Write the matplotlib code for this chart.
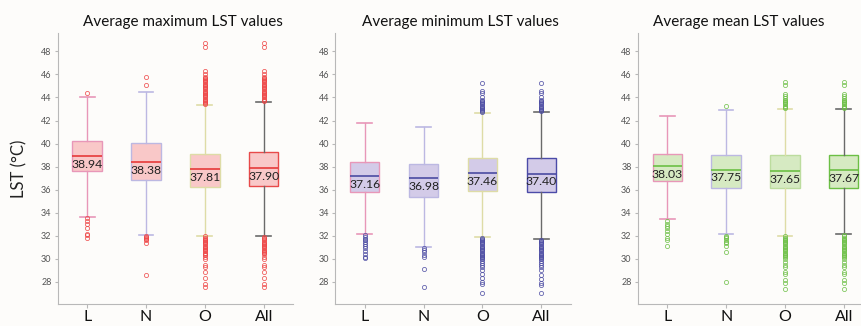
import matplotlib.pyplot as plt

groups = ['L', 'N', 'O', 'All']

# --- average maximum LST: q1, median, q3, whisker ends, outliers ---
max_q1 = [37.61, 36.81, 36.24, 36.32]
max_med = [38.94, 38.38, 37.81, 37.90]
max_q3 = [40.20, 40.02, 39.10, 39.31]
max_lo = [33.65, 32.07, 32.02, 31.96]
max_hi = [44.07, 44.44, 43.32, 43.64]
max_out = [
    [44.38, 33.55, 33.30, 33.00, 32.70, 32.20, 32.05, 31.85],
    [45.82, 45.04, 31.98, 31.90, 31.82, 31.74, 31.66, 31.40, 28.60],
    [48.72, 48.38, 46.34, 46.05, 45.80, 45.70, 45.60, 45.50, 45.40, 45.30,
     45.20, 45.10, 45.00, 44.90, 44.80, 44.70, 44.60, 44.50, 44.40, 44.30,
     44.20, 44.10, 44.00, 43.90, 43.80, 43.70, 43.60, 43.50, 43.40,
     31.95, 31.85, 31.75, 31.65, 31.55, 31.45, 31.35, 31.25, 31.15, 31.05,
     30.95, 30.85, 30.75, 30.65, 30.55, 30.45, 30.35, 30.20, 30.00, 29.50,
     29.30, 28.85, 28.35, 27.85, 27.55],
    [48.72, 48.38, 46.34, 46.05, 45.80, 45.70, 45.60, 45.50, 45.40, 45.30,
     45.20, 45.10, 45.00, 44.90, 44.80, 44.70, 44.60, 44.50, 44.40, 44.30,
     44.20, 44.10, 44.00, 43.90, 43.80, 43.70,
     31.90, 31.80, 31.70, 31.60, 31.50, 31.40, 31.30, 31.20, 31.10, 31.00,
     30.90, 30.80, 30.70, 30.60, 30.50, 30.40, 30.20, 30.00, 29.50, 29.30,
     28.85, 28.35, 27.85, 27.55],
]

# --- average minimum LST ---
min_q1 = [35.79, 35.34, 35.91, 35.79]
min_med = [37.16, 36.98, 37.46, 37.40]
min_q3 = [38.37, 38.20, 38.72, 38.72]
min_lo = [32.13, 31.00, 31.90, 31.70]
min_hi = [41.81, 41.47, 42.64, 42.73]
min_out = [
    [32.05, 31.90, 31.75, 31.60, 31.45, 31.30, 31.10, 30.90, 30.70, 30.45,
     30.20, 30.10],
    [30.92, 30.80, 30.60, 30.30, 30.15, 29.10, 27.55],
    [45.28, 44.55, 44.35, 44.05, 43.80, 43.70, 43.60, 43.50, 43.40, 43.30,
     43.20, 43.10, 43.00, 42.90, 42.80, 42.70,
     31.85, 31.75, 31.65, 31.55, 31.45, 31.35, 31.25, 31.15, 31.05, 30.95,
     30.85, 30.75, 30.65, 30.55, 30.45, 30.35, 30.25, 30.15, 30.05, 29.95,
     29.80, 29.65, 29.50, 29.30, 29.00, 28.65, 28.30, 28.00, 27.85, 27.05],
    [45.28, 44.55, 44.35, 44.00, 43.80, 43.70, 43.60, 43.50, 43.40, 43.30,
     43.20, 43.10, 43.00, 42.90, 42.80,
     31.65, 31.55, 31.45, 31.35, 31.25, 31.15, 31.05, 30.95, 30.85, 30.75,
     30.65, 30.55, 30.45, 30.35, 30.25, 30.15, 30.05, 29.95, 29.80, 29.65,
     29.50, 29.30, 29.00, 28.60, 28.25, 27.95, 27.75, 27.05],
]

# --- average mean LST ---
mean_q1 = [36.78, 36.18, 36.13, 36.13]
mean_med = [38.03, 37.75, 37.65, 37.67]
mean_q3 = [39.10, 39.02, 38.99, 38.99]
mean_lo = [33.44, 32.12, 32.00, 32.12]
mean_hi = [42.39, 42.94, 42.99, 43.02]
mean_out = [
    [33.26, 33.06, 32.86, 32.64, 32.43, 32.20, 31.83, 31.63, 31.15],
    [43.28, 32.00, 31.90, 31.80, 31.65, 31.50, 31.40, 31.15, 30.60, 28.00],
    [45.30, 45.10, 44.30, 44.10, 43.95, 43.80, 43.70, 43.60, 43.50, 43.40,
     43.30, 43.20, 43.10,
     31.95, 31.85, 31.75, 31.65, 31.55, 31.45, 31.35, 31.25, 31.15, 31.05,
     30.95, 30.85, 30.75, 30.65, 30.55, 30.45, 30.35, 30.25, 30.15, 30.00,
     29.70, 29.50, 29.30, 28.90, 28.70, 28.20, 27.95, 27.40],
    [45.30, 45.10, 44.30, 44.10, 43.95, 43.80, 43.70, 43.60, 43.50, 43.40,
     43.30, 43.20, 43.10,
     32.05, 31.95, 31.85, 31.75, 31.65, 31.55, 31.45, 31.35, 31.25, 31.15,
     31.05, 30.95, 30.85, 30.75, 30.65, 30.55, 30.45, 30.35, 30.25, 30.15,
     30.00, 29.70, 29.50, 29.30, 28.90, 28.70, 28.20, 27.95, 27.40],
]

plt.rcParams['font.family'] = ['Lato', 'DejaVu Sans']

PINK = '#e897b8'
LAV = '#bcb8e2'
YEL = '#dedca6'
GREY = '#6a6a6a'


def panel(ax, q1, med, q3, lo, hi, out, fill, medc, edges, flierc, title, tx=0.53):
    stats = []
    for i in range(len(groups)):
        stats.append(dict(q1=q1[i], med=med[i], q3=q3[i], whislo=lo[i],
                          whishi=hi[i], fliers=out[i], label=groups[i]))
    bp = ax.bxp(stats, widths=0.5, patch_artist=True, showfliers=True,
                flierprops=dict(marker='o', markersize=3.0, markerfacecolor='none',
                                markeredgecolor=flierc, markeredgewidth=0.6,
                                alpha=0.85),
                medianprops=dict(color=medc, linewidth=1.2),
                boxprops=dict(facecolor=fill, linewidth=1.0))
    whisk = [PINK, LAV, YEL, GREY]
    for i in range(len(groups)):
        bp['boxes'][i].set_edgecolor(edges[i])
        for j in (2 * i, 2 * i + 1):
            bp['whiskers'][j].set_color(whisk[i])
            bp['caps'][j].set_color(whisk[i])
            bp['whiskers'][j].set_linewidth(1.0)
            bp['caps'][j].set_linewidth(1.2)
        # value label just under the median line
        ax.annotate(f'{med[i]:.2f}', (i + 1, med[i]), xytext=(0, -6),
                    textcoords='offset points', ha='center', va='center',
                    fontsize=8.8, color='#222222')

    ax.set_xlim(0.5, 4.5)
    ax.set_ylim(26.1, 49.6)
    ax.set_yticks(range(28, 49, 2))
    ax.set_facecolor('none')
    for s in ('top', 'right'):
        ax.spines[s].set_visible(False)
    for s in ('left', 'bottom'):
        ax.spines[s].set_color('#b8b8b8')
    ax.tick_params(axis='y', labelsize=6.5, colors='#b8b8b8', labelcolor='#555555',
                   length=2.5, pad=2)
    ax.tick_params(axis='x', labelsize=11.5, colors='#b8b8b8', labelcolor='#111111',
                   length=3, pad=1.5)
    ax.set_title(title, fontsize=11, color='#111111', pad=5, x=tx)


fig = plt.figure(figsize=(8.62, 3.26), dpi=100, facecolor='#fdfcfa')
w = 0.273
ax1 = fig.add_axes([0.067, 0.068, w, 0.831])
ax2 = fig.add_axes([0.389, 0.068, w, 0.831])
ax3 = fig.add_axes([0.740, 0.068, w, 0.831])

panel(ax1, max_q1, max_med, max_q3, max_lo, max_hi, max_out,
      '#f9c8c8', '#e63a3a', [PINK, LAV, YEL, '#e84a4a'], '#ee4444',
      'Average maximum LST values')
panel(ax2, min_q1, min_med, min_q3, min_lo, min_hi, min_out,
      '#d3cbe8', '#4b4ba2', [PINK, LAV, YEL, '#4b4ba8'], '#4b4ba2',
      'Average minimum LST values')
panel(ax3, mean_q1, mean_med, mean_q3, mean_lo, mean_hi, mean_out,
      '#d6eac2', '#6cbf45', [PINK, LAV, '#bcdc9e', '#6cbf45'], '#6cbf45',
      'Average mean LST values', tx=0.43)

ax1.set_ylabel('LST (°C)', fontsize=12, color='#222222', labelpad=10)

fig.savefig('out.png', dpi=100, facecolor=fig.get_facecolor())
